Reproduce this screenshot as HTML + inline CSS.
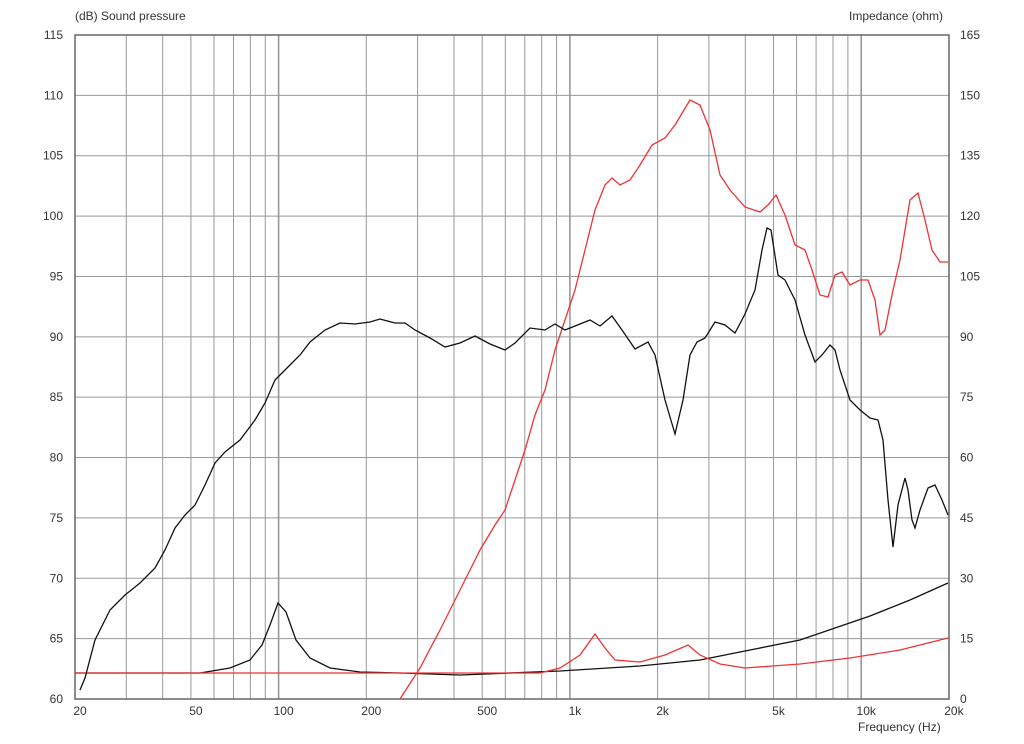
<!DOCTYPE html>
<html><head><style>
body{margin:0;background:#fff}
svg text{font-family:"Liberation Sans",sans-serif;font-size:12px;fill:#333}
</style></head><body>
<svg width="1024" height="739" xmlns="http://www.w3.org/2000/svg">
<g id="grid" stroke="#999" stroke-width="1"></g>
<rect x="75" y="35" width="874" height="664" fill="none" stroke="#666" stroke-width="1.5"/>
<g id="lab"></g>
<text x="75" y="20">(dB)  Sound pressure</text>
<text x="849" y="20">Impedance  (ohm)</text>
<text x="858" y="731">Frequency  (Hz)</text>
<polyline fill="none" stroke="#111" stroke-width="1.3" points="75,673 200,673 230,668 250,660 262,645 270,625 278,603 286,612 296,640 310,658 330,668 360,672 400,673 460,675 560,671 640,666 700,660 750,650 800,640 870,616 910,600 948,583"/>
<polyline fill="none" stroke="#e33" stroke-width="1.3" points="75,673 540,673 560,668 580,655 595,634 605,648 615,660 640,662 665,655 688,645 700,655 720,664 745,668 800,664 850,658 900,650 948,638"/>
<polyline fill="none" stroke="#e33" stroke-width="1.3" points="400,699 420,668 440,630 455,600 470,570 480,550 495,525 505,510 515,480 525,450 535,415 545,390 555,350 565,320 575,290 585,250 595,210 605,185 612,178 620,185 630,180 640,165 652,145 665,138 675,125 690,100 700,105 710,130 720,175 730,190 745,207 760,212 768,205 776,195 785,215 795,245 805,250 812,270 820,295 828,297 835,275 842,272 850,285 860,280 868,280 875,300 880,335 885,330 893,290 900,260 910,200 918,193 925,220 932,250 940,262 948,262"/>
<polyline fill="none" stroke="#111" stroke-width="1.3" points="80,690 85,678 95,640 110,610 125,595 140,583 155,568 165,550 175,528 185,515 195,505 205,485 215,463 225,452 240,440 255,420 265,403 275,380 290,365 300,355 310,342 325,330 340,323 355,324 370,322 380,319 395,323 405,323 415,330 430,338 445,347 460,343 475,336 490,344 505,350 515,343 530,328 545,330 555,324 565,330 575,326 590,320 600,326 612,316 622,330 635,349 648,342 655,355 665,400 675,434 683,400 690,355 697,342 705,338 715,322 725,325 735,333 745,314 755,290 762,250 767,228 771,230 778,275 785,280 795,300 805,335 815,362 822,355 830,345 835,350 840,370 850,400 860,410 870,418 878,420 883,440 888,500 893,547 898,505 905,478 908,490 912,520 915,528 920,510 928,488 935,485 942,500 948,515"/>
<script>
var g=document.getElementById('grid'),l=document.getElementById('lab'),ns="http://www.w3.org/2000/svg";
function X(f){return 75+291.3*Math.log10(f/20);}
function el(p,t,a,txt){var e=document.createElementNS(ns,t);for(var k in a)e.setAttribute(k,a[k]);if(txt)e.textContent=txt;p.appendChild(e);}
[[30,100,10],[200,1000,100],[2000,10000,1000]].forEach(function(r){for(var f=r[0];f<=r[1];f+=r[2]){var x=X(f);el(g,'line',{x1:x,x2:x,y1:35,y2:699,'stroke-width':(f==100||f==1000||f==10000)?1.6:1});}});
for(var i=1;i<11;i++){var y=35+i*664/11;el(g,'line',{x1:75,x2:949,y1:y,y2:y});}
for(var i=0;i<=11;i++){var y=35+i*664/11;el(l,'text',{x:63,y:y+4,'text-anchor':'end'},String(115-5*i));el(l,'text',{x:960,y:y+4},String(165-15*i));}
[[20,'20'],[50,'50'],[100,'100'],[200,'200'],[500,'500'],[1000,'1k'],[2000,'2k'],[5000,'5k'],[10000,'10k'],[20000,'20k']].forEach(function(a){el(l,'text',{x:X(a[0])+5,y:715,'text-anchor':'middle'},a[1]);});
</script>
</svg>
</body></html>
